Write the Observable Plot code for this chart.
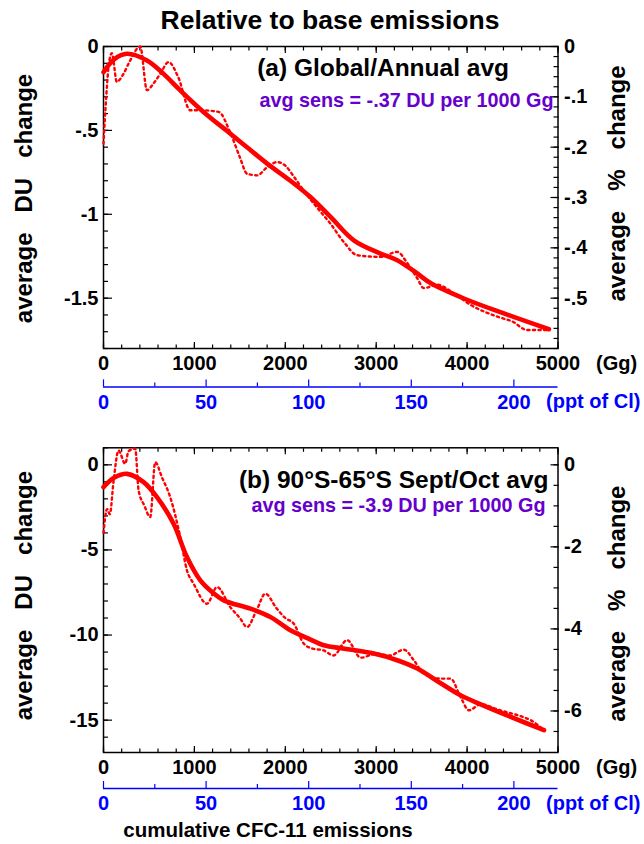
<!DOCTYPE html>
<html><head><meta charset="utf-8">
<script src="https://cdn.jsdelivr.net/npm/d3@7"></script>
<script src="https://cdn.jsdelivr.net/npm/@observablehq/plot@0.6"></script>
<style>
body{margin:0;background:#fff;font-family:"Liberation Sans",Arial,sans-serif;}
#wrap{position:relative;width:644px;height:844px;overflow:hidden;background:#fff;}
.pn{position:absolute;left:0;width:644px;}
#title{position:absolute;left:0;width:660px;top:6px;line-height:28px;text-align:center;font-weight:bold;font-size:26.5px;color:#000;}
#caption{position:absolute;left:0;width:536px;top:818px;line-height:24px;text-align:center;font-weight:bold;font-size:20.5px;color:#000;}
</style></head><body>
<div id="wrap">
<div id="p1" class="pn" style="top:0px"></div>
<div id="p2" class="pn" style="top:420px"></div>
<div id="title">Relative to base emissions</div>
<div id="caption">cumulative CFC-11 emissions</div>
</div>
<script>
// ---- data ----
const xMajor = [0, 1000, 2000, 3000, 4000, 5000];
const xMinor = d3.range(0, 5001, 200);
const pptMajor = [0, 50, 100, 150, 200];
const pptMinor = [25, 75, 125, 175];
const pptAt5000Gg = 221.5;

// Panel (a)
const aSmoothX = [0, 120, 258, 478, 661, 845, 1100, 1397, 1600, 1800, 2056, 2276, 2498, 2753, 3047, 3231, 3452, 3598, 3965, 4405, 4900];
const aSmoothY = [-0.153, -0.075, -0.043, -0.083, -0.163, -0.262, -0.39, -0.52, -0.61, -0.698, -0.80, -0.897, -1.016, -1.155, -1.234, -1.274, -1.353, -1.41, -1.502, -1.591, -1.685];
const aDotX = [0, 30, 60, 92, 147, 220, 294, 404, 478, 551, 624, 716, 820, 955, 1065, 1266, 1400, 1500, 1579, 1690, 1800, 1910, 2000, 2100, 2203, 2350, 2495, 2650, 2790, 3047, 3231, 3341, 3450, 3524, 3671, 3850, 4038, 4332, 4500, 4663, 4780, 4900];
const aDotY = [-0.58, -0.3, -0.1, -0.04, -0.21, -0.163, -0.083, 0.0, -0.26, -0.22, -0.163, -0.093, -0.18, -0.38, -0.38, -0.39, -0.52, -0.66, -0.758, -0.768, -0.72, -0.689, -0.71, -0.78, -0.86, -0.96, -1.055, -1.17, -1.244, -1.254, -1.224, -1.29, -1.38, -1.44, -1.42, -1.47, -1.54, -1.61, -1.64, -1.69, -1.69, -1.69];
const aLeftMajor = [0, -0.5, -1, -1.5];
const aLeftMinor = d3.range(0, -1.801, -0.1);
const aPctMajor = [0, -0.1, -0.2, -0.3, -0.4, -0.5];
const aPctMinor = d3.range(0, -0.601, -0.02);
const aDUperPct = 3.0;

// Panel (b)
const bSmoothX = [0, 120, 258, 441, 588, 771, 918, 1065, 1200, 1322, 1616, 1836, 2056, 2250, 2423, 2650, 2974, 3231, 3452, 3700, 3928, 4149, 4500, 4846];
const bSmoothY = [-1.31, -0.75, -0.53, -1.02, -1.9, -3.46, -5.42, -6.79, -7.5, -7.96, -8.45, -8.94, -9.72, -10.2, -10.6, -10.8, -11.09, -11.48, -11.97, -12.8, -13.54, -14.07, -14.85, -15.59];
const bDotX = [0, 40, 70, 110, 165, 239, 275, 349, 386, 450, 514, 569, 643, 734, 845, 918, 991, 1139, 1249, 1395, 1500, 1579, 1680, 1781, 1900, 2000, 2093, 2203, 2300, 2420, 2530, 2680, 2830, 3000, 3150, 3304, 3414, 3524, 3708, 3818, 3928, 4020, 4149, 4350, 4589, 4699, 4846];
const bDotY = [-4.0, -2.6, -2.9, -1.0, 0.84, 0.06, 0.8, 0.95, -1.5, -2.4, -3.07, 0.15, -0.73, -1.9, -4.25, -6.2, -6.98, -8.16, -7.18, -8.36, -9.0, -9.53, -8.6, -7.57, -8.4, -9.0, -9.33, -10.5, -10.8, -10.9, -11.2, -10.3, -11.33, -11.1, -11.2, -10.86, -11.48, -12.27, -12.56, -12.56, -13.64, -14.42, -14.07, -14.4, -14.77, -15.0, -15.59];
const bLeftMajor = [0, -5, -10, -15];
const bLeftMinor = d3.range(1, -16.01, -1);
const bPctMajor = [0, -2, -4, -6];
const bPctMinor = d3.range(0, -6.51, -0.5);
const bDUperPct = 2.41;

const titles = ["(a) Global/Annual avg", "(b) 90\u00b0S-65\u00b0S Sept/Oct avg"];
const sens = ["avg sens = -.37 DU per 1000 Gg", "avg sens = -3.9 DU per 1000 Gg"];
const yLabelL = "average\u00a0\u00a0\u00a0DU\u00a0\u00a0\u00a0change";
const yLabelR = "average\u00a0\u00a0\u00a0%\u00a0\u00a0\u00a0change";

// ---- drawing ----
const RED = "#ff0000", BLUE = "#0000ff", PURPLE = "#6600cc";
const gPerPpt = 5000 / pptAt5000Gg;
function fmt(d) {
  if (Math.abs(d) < 1e-9) return "0";
  const s = String(+d.toFixed(3));
  return s.replace(/^(-?)0\./, "$1.");
}
const blank = () => "";

function panel(c) {
  return Plot.plot({
    width: 644, height: c.height,
    marginLeft: 103, marginRight: 86.5, marginTop: c.mt, marginBottom: c.mb,
    x: {domain: [0, 5000]},
    y: {domain: c.yDomain},
    style: {fontFamily: "'Liberation Sans', Arial, sans-serif", fontSize: "20px", fontWeight: "bold", color: "#000", background: "transparent", overflow: "visible"},
    marks: [
      Plot.axisX(xMajor, {anchor: "top", tickSize: -6, tickFormat: blank, label: null, strokeWidth: 1.2}),
      Plot.axisX(xMinor, {anchor: "top", tickSize: -3.5, tickFormat: blank, label: null, strokeWidth: 1.2}),
      Plot.axisX(xMajor, {anchor: "bottom", tickSize: -6, tickPadding: 13.5, tickFormat: d => String(d), label: null, strokeWidth: 1.2}),
      Plot.axisX(xMinor, {anchor: "bottom", tickSize: -3.5, tickFormat: blank, label: null, strokeWidth: 1.2}),
      Plot.axisY(c.leftMajor, {anchor: "left", tickSize: -9, tickPadding: 14, tickFormat: fmt, label: null, strokeWidth: 1.2}),
      Plot.axisY(c.leftMinor, {anchor: "left", tickSize: -5, tickFormat: blank, label: null, strokeWidth: 1.2}),
      Plot.axisY(c.pctMajor.map(p => p * c.k), {anchor: "right", tickSize: -8, tickPadding: 14, tickFormat: d => fmt(d / c.k), label: null, strokeWidth: 1.2}),
      Plot.axisY(c.pctMinor.map(p => p * c.k), {anchor: "right", tickSize: -5, tickFormat: blank, label: null, strokeWidth: 1.2}),
      Plot.frame({stroke: "#000", strokeWidth: 1.5}),
      // secondary (ppt of Cl) axis
      Plot.ruleY([c.yDomain[0]], {x1: 0, x2: 5000, stroke: BLUE, strokeWidth: 1.5, dy: c.blue}),
      Plot.axisX(pptMajor.map(p => p * gPerPpt), {anchor: "bottom", dy: c.blue, tickSize: -7, tickPadding: 14.5, color: BLUE, tickFormat: d => String(Math.round(d / gPerPpt)), label: null, strokeWidth: 1.2}),
      Plot.axisX(pptMinor.map(p => p * gPerPpt), {anchor: "bottom", dy: c.blue, tickSize: -4, color: BLUE, tickFormat: blank, label: null, strokeWidth: 1.2}),
      Plot.text(["(Gg)"], {frameAnchor: "bottom-right", dx: 38, dy: 14.7, textAnchor: "start", lineAnchor: "middle", fontSize: 20}),
      Plot.text(["(ppt of Cl)"], {frameAnchor: "bottom-right", dx: -12, dy: c.blue + 15, textAnchor: "start", lineAnchor: "middle", fontSize: 20, fill: BLUE}),
      // curves
      Plot.line(c.dotX, {x: c.dotX, y: c.dotY, stroke: RED, strokeWidth: 2.4, strokeDasharray: "2.2,3.4", curve: "monotone-x"}),
      Plot.line(c.smX, {x: c.smX, y: c.smY, stroke: RED, strokeWidth: 4.6, curve: "catmull-rom"}),
      // annotations
      Plot.text([c.title], {frameAnchor: "top-right", dx: c.titleDx, dy: c.titleDy, textAnchor: "end", lineAnchor: "middle", fontSize: 24.5}),
      Plot.text([c.sens], {frameAnchor: "top-right", dx: c.sensDx, dy: c.sensDy, textAnchor: "end", lineAnchor: "middle", fontSize: 19.8, fill: PURPLE}),
      Plot.text([yLabelL], {frameAnchor: "left", dx: -79, dy: c.lDy, rotate: -90, textAnchor: "middle", lineAnchor: "middle", fontSize: 24}),
      Plot.text([yLabelR], {frameAnchor: "right", dx: 59.5, dy: c.rDy, rotate: -90, textAnchor: "middle", lineAnchor: "middle", fontSize: 24})
    ]
  });
}

document.getElementById("p1").append(panel({
  height: 420, mt: 46, mb: 72, yDomain: [-1.8, 0], blue: 38.4,
  smX: aSmoothX, smY: aSmoothY, dotX: aDotX, dotY: aDotY,
  leftMajor: aLeftMajor, leftMinor: aLeftMinor, pctMajor: aPctMajor, pctMinor: aPctMinor, k: aDUperPct,
  title: titles[0], titleDx: -49, titleDy: 22, sens: sens[0], sensDx: -4.5, sensDy: 54,
  lDy: 1, rDy: -14
}));
document.getElementById("p2").append(panel({
  height: 400, mt: 27.3, mb: 68, yDomain: [-16.9, 1], blue: 36,
  smX: bSmoothX, smY: bSmoothY, dotX: bDotX, dotY: bDotY,
  leftMajor: bLeftMajor, leftMinor: bLeftMinor, pctMajor: bPctMajor, pctMinor: bPctMinor, k: bDUperPct,
  title: titles[1], titleDx: -9.5, titleDy: 32, sens: sens[1], sensDx: -12.5, sensDy: 58,
  lDy: -4.5, rDy: 3.5
}));
</script>
</body></html>
